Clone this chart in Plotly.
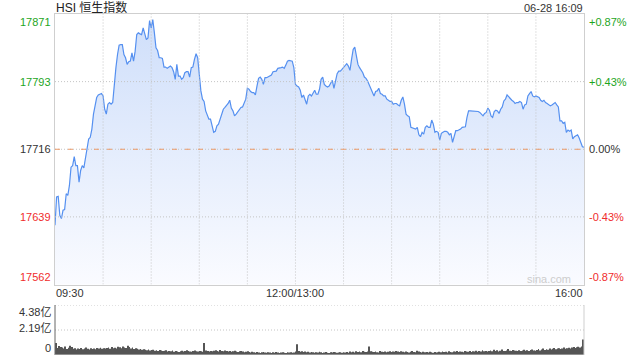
import plotly.graph_objects as go

# ---------------- data ----------------
prev_close = 17716
price_range = [17562, 17870]

am_prices = [
    17629.5, 17661.6, 17662.3, 17640.8, 17637.1, 17646.5, 17647.3, 17665.4, 17663.5, 17674.8,
    17695.6, 17697.4, 17707.6, 17697.4, 17697.4, 17678.6, 17691.8, 17697.4, 17694.8, 17706.9,
    17718.3, 17727.7, 17729.6, 17739.0, 17756.0, 17767.3, 17774.9, 17777.8, 17778.6, 17779.4,
    17776.7, 17761.6, 17756.0, 17767.3, 17769.2, 17767.3, 17769.2, 17793.7, 17808.9, 17823.9,
    17834.4, 17835.2, 17835.2, 17823.9, 17820.2, 17812.6, 17815.7, 17816.3, 17825.8, 17816.3,
    17827.7, 17846.6, 17848.5, 17847.4, 17846.6, 17854.2, 17847.4, 17840.9, 17842.8, 17862.4,
    17854.2, 17863.6, 17848.5, 17831.5, 17828.4, 17820.2, 17820.2, 17819.4, 17809.5, 17809.5,
    17808.1, 17809.5, 17810.7, 17808.9, 17804.3, 17795.6, 17812.6, 17799.3, 17799.3, 17795.6,
    17797.5, 17803.2, 17804.3, 17804.3, 17798.2, 17808.9, 17809.5, 17818.3, 17824.7, 17820.2,
    17801.3, 17782.4, 17773.0, 17770.4, 17759.7, 17754.0, 17750.3, 17750.3, 17742.7, 17735.3,
    17736.4, 17742.7, 17744.6, 17750.3, 17756.0, 17761.6, 17763.6, 17765.4, 17768.1, 17771.8,
    17762.8, 17759.7, 17754.0, 17756.0, 17759.0, 17761.6, 17763.6, 17764.2, 17768.1, 17773.0,
    17785.4, 17784.3, 17781.7, 17780.5, 17780.5, 17777.8, 17788.0, 17796.7, 17798.2, 17795.6,
    17789.9, 17797.5, 17797.5, 17798.2, 17799.3, 17800.5, 17804.3, 17805.0, 17805.0, 17808.1,
    17808.1, 17808.9, 17809.5, 17808.1, 17811.8, 17816.3, 17817.1, 17816.3, 17816.3, 17808.9,
    17789.9,
]
pm_prices = [
    17788.0, 17786.9, 17783.2, 17774.9, 17777.8, 17773.0, 17767.3, 17776.7, 17778.6, 17776.7,
    17779.4, 17783.2, 17778.6, 17778.6, 17784.3, 17795.6, 17798.2, 17789.9, 17788.0, 17786.9,
    17788.0, 17791.9, 17794.5, 17785.4, 17795.6, 17802.1, 17805.0, 17805.0, 17806.9, 17809.5,
    17811.8, 17813.4, 17810.7, 17805.8, 17818.3, 17829.6, 17832.2, 17823.9, 17812.6, 17808.9,
    17805.8, 17803.2, 17798.2, 17796.7, 17793.7, 17789.9, 17786.2, 17781.7, 17776.7, 17781.7,
    17782.4, 17785.4, 17779.4, 17778.6, 17776.7, 17776.7, 17773.0, 17771.8, 17770.4, 17770.4,
    17767.3, 17768.1, 17768.1, 17766.5, 17765.4, 17771.8, 17775.6, 17767.3, 17756.0, 17754.0,
    17752.9, 17740.9, 17740.1, 17740.1, 17739.0, 17740.9, 17732.5, 17730.3, 17735.3, 17733.3,
    17740.9, 17742.7, 17740.9, 17740.9, 17749.2, 17744.6, 17735.3, 17736.4, 17735.3, 17726.5,
    17734.1, 17735.3, 17736.4, 17736.4, 17735.3, 17732.5, 17734.1, 17723.9, 17731.4, 17737.1,
    17737.1, 17737.9, 17739.0, 17740.9, 17741.6, 17741.6, 17752.2, 17759.7, 17759.7, 17759.7,
    17759.7, 17759.7, 17759.0, 17759.0, 17757.9, 17756.0, 17754.0, 17756.8, 17757.9, 17762.8,
    17760.5, 17754.0, 17752.2, 17759.0, 17760.5, 17759.7, 17756.8, 17761.6, 17764.2, 17771.0,
    17773.0, 17777.8, 17775.6, 17773.0, 17771.8, 17770.4, 17768.1, 17769.2, 17769.2, 17770.4,
    17769.2, 17761.6, 17766.5, 17767.3, 17776.7, 17779.4, 17781.7, 17776.7, 17775.6, 17776.7,
    17775.6, 17774.9, 17771.8, 17770.4, 17771.8, 17769.2, 17768.1, 17766.5, 17765.4, 17766.5,
    17768.1, 17769.2, 17766.5, 17764.2, 17748.4, 17748.4, 17745.4, 17746.6, 17735.3, 17737.9,
    17736.4, 17737.9, 17727.7, 17730.3, 17731.4, 17732.5, 17728.8, 17722.8, 17718.9, 17718.3,
]

# volume in 亿
am_volume = [
    1.05, 0.62, 0.78, 0.70, 0.66, 0.58, 0.75, 0.52, 0.64, 0.80, 0.70, 0.55, 0.60, 0.48, 0.57, 0.52,
    0.62, 0.50, 0.58, 0.66, 0.54, 0.48, 0.60, 0.52, 0.56, 0.50, 0.62, 0.58, 0.64, 0.55, 0.60,
    0.58, 0.62, 0.66, 0.55, 0.70, 0.60, 0.64, 0.58, 0.72, 0.68, 0.60, 0.75, 0.66, 0.62, 0.80,
    0.70, 0.58, 0.65, 0.52, 0.60, 0.55, 0.48, 0.52, 0.45, 0.50, 0.46, 0.42, 0.48, 0.40, 0.44,
    0.46, 0.38, 0.42, 0.36, 0.44, 0.40, 0.35, 0.38, 0.42, 0.30, 0.36, 0.33, 0.40, 0.28, 0.34,
    0.30, 0.26, 0.32, 0.38, 0.30, 0.36, 0.42, 0.34, 0.30, 0.28, 0.35, 0.40, 0.32, 0.30, 0.36,
    0.32, 0.28, 1.05, 0.40, 0.34, 0.30, 0.36, 0.32, 0.38, 0.42, 0.35, 0.30, 0.44, 0.36, 0.32,
    0.40, 0.34, 0.30, 0.36, 0.28, 0.32, 0.38, 0.30, 0.27, 0.33, 0.36, 0.30, 0.25, 0.28, 0.32,
    0.26, 0.22, 0.28, 0.24, 0.20, 0.26, 0.22, 0.18, 0.24, 0.27, 0.21, 0.19, 0.25, 0.22, 0.18,
    0.23, 0.20, 0.26, 0.21, 0.18, 0.22, 0.24, 0.20, 0.18, 0.25, 0.21, 0.23, 0.19, 0.22, 0.30,
]
pm_volume = [
    0.95, 0.35, 0.28, 0.32, 0.26, 0.30, 0.24, 0.28, 0.22, 0.26, 0.24, 0.20, 0.25, 0.22, 0.28,
    0.24, 0.18, 0.22, 0.26, 0.20, 0.18, 0.24, 0.21, 0.27, 0.23, 0.19, 0.22, 0.25, 0.20, 0.24,
    0.22, 0.26, 0.20, 0.30, 0.24, 0.28, 0.22, 0.32, 0.26, 0.30, 0.24, 0.35, 0.28, 0.26, 0.30,
    0.75, 0.32, 0.28, 0.26, 0.30, 0.24, 0.22, 0.36, 0.28, 0.26, 0.30, 0.25, 0.28, 0.32, 0.26,
    0.30, 0.28, 0.34, 0.30, 0.26, 0.32, 0.28, 0.24, 0.30, 0.26, 0.22, 0.28, 0.34, 0.26, 0.24,
    0.38, 0.30, 0.26, 0.22, 0.28, 0.24, 0.26, 0.22, 0.28, 0.24, 0.20, 0.26, 0.22, 0.25, 0.28,
    0.24, 0.30, 0.26, 0.28, 0.22, 0.32, 0.26, 0.24, 0.30, 0.28, 0.34, 0.26, 0.30, 0.28, 0.24,
    0.36, 0.30, 0.28, 0.34, 0.26, 0.32, 0.30, 0.38, 0.28, 0.34, 0.30, 0.42, 0.32, 0.36, 0.30,
    0.34, 0.40, 0.32, 0.46, 0.36, 0.42, 0.30, 0.38, 0.48, 0.36, 0.34, 0.40, 0.52, 0.38, 0.36,
    0.44, 0.40, 0.38, 0.34, 0.42, 0.36, 0.40, 0.46, 0.38, 0.42, 0.36, 0.44, 0.48, 0.40, 0.38,
    0.44, 0.52, 0.40, 0.48, 0.56, 0.44, 0.50, 0.46, 0.58, 0.48, 0.54, 0.62, 0.50, 0.56, 0.60,
    0.52, 0.58, 0.66, 0.54, 0.60, 0.64, 0.58, 0.66, 0.70, 0.62, 0.68, 0.72, 0.66, 0.75, 1.35,
]

left_ticks = [17871, 17793, 17716, 17639, 17562]
right_ticks = ["+0.87%", "+0.43%", "0.00%", "-0.43%", "-0.87%"]
tick_colors = ["#1da51d", "#1da51d", "#333333", "#f02c2c", "#f02c2c"]
time_labels = ["09:30", "12:00/13:00", "16:00"]
vol_labels = ["4.38亿", "2.19亿", "0"]
vol_max = 4.38
title_text = "HSI 恒生指数"
stamp_text = "06-28 16:09"

# ---------------- build ----------------
prices = am_prices + pm_prices
volumes = am_volume + pm_volume
times = [f"{9 + (30 + i) // 60:02d}:{(30 + i) % 60:02d}" for i in range(len(am_prices))] + \
        [f"{13 + (1 + i) // 60:02d}:{(1 + i) % 60:02d}" for i in range(len(pm_prices))]
idx = list(range(len(prices)))
n_last = idx[-1]

W, H = 640, 360
ML, MR, MT, MB = 55, 56, 14, 5
PH = H - MT - MB
def py(p):
    return (H - MB - p) / PH

main_dom = [py(284.5), 1.0]
vol_dom = [0.0, py(305)]

FONT = "Liberation Sans, Arial, Noto Sans CJK SC, sans-serif"
GRID = "#c4c4c4"
FRAME = "#cfcfcf"
DOT = "1px,2px"

fig = go.Figure()
fig.add_trace(go.Scatter(
    x=idx, y=prices, customdata=times, mode="lines",
    line=dict(color="#5590f0", width=1.2),
    fill="tozeroy",
    fillgradient=dict(type="vertical",
                      colorscale=[[0, "rgb(250,251,255)"], [1, "rgb(206,222,250)"]],
                      start=price_range[0], stop=price_range[1]),
    xaxis="x", yaxis="y", hoverinfo="skip", showlegend=False,
))
fig.add_trace(go.Bar(
    x=idx, y=volumes, marker=dict(color="#555555", line=dict(width=0)),
    xaxis="x2", yaxis="y2", hoverinfo="skip", showlegend=False,
))

fig.update_layout(
    width=W, height=H, margin=dict(l=ML, r=MR, t=MT, b=MB),
    paper_bgcolor="white", plot_bgcolor="white", bargap=0.45,
    font=dict(family=FONT, size=11, color="#333"),
    xaxis=dict(domain=[0, 1], range=[0, n_last], anchor="y",
               showticklabels=False, ticks="", showgrid=False, zeroline=False,
               showline=True, mirror=True, linecolor=FRAME, linewidth=1),
    yaxis=dict(domain=main_dom, range=price_range, anchor="x",
               showticklabels=False, ticks="", showgrid=False, zeroline=False,
               showline=True, mirror=True, linecolor=FRAME, linewidth=1),
    xaxis2=dict(domain=[0, 1], range=[-0.5, n_last + 0.5], anchor="y2",
                showticklabels=False, ticks="", showgrid=False, zeroline=False, showline=False),
    yaxis2=dict(domain=vol_dom, range=[0, vol_max], anchor="x2",
                showticklabels=False, ticks="", showgrid=False, zeroline=False, showline=False),
)

shapes = []
# dotted grid drawn above the area fill
for m in range(30, n_last, 30):
    shapes.append(dict(type="line", xref="x", yref="y", x0=m, x1=m,
                       y0=price_range[0], y1=price_range[1], layer="above",
                       line=dict(color=GRID, width=1, dash=DOT)))
for v in left_ticks[1:4]:
    shapes.append(dict(type="line", xref="paper", yref="y", x0=0, x1=1, y0=v, y1=v,
                       layer="above", line=dict(color=GRID, width=1, dash=DOT)))
shapes += [
    dict(type="line", xref="paper", yref="y", x0=0, x1=1, y0=prev_close, y1=prev_close,
         line=dict(color="#ec9a68", width=1, dash="5px,8px")),
    dict(type="line", xref="paper", yref="y2", x0=0, x1=1, y0=vol_max, y1=vol_max,
         line=dict(color=GRID, width=1, dash=DOT)),
    dict(type="line", xref="paper", yref="y2", x0=0, x1=1, y0=vol_max / 2, y1=vol_max / 2,
         line=dict(color=GRID, width=1, dash=DOT)),
    dict(type="line", xref="paper", yref="y2", x0=0, x1=0, y0=0, y1=vol_max,
         line=dict(color="#666666", width=1)),
    dict(type="line", xref="paper", yref="y2", x0=1, x1=1, y0=0, y1=vol_max,
         line=dict(color=FRAME, width=1)),
    dict(type="line", xref="paper", yref="y2", x0=0, x1=1, y0=0, y1=0,
         line=dict(color=FRAME, width=1)),
]
fig.update_layout(shapes=shapes)

ann = []
anchors = ["top", "middle", "middle", "middle", "bottom"]
for val, pct, col, ya in zip(left_ticks, right_ticks, tick_colors, anchors):
    yv = min(max(val, price_range[0]), price_range[1])
    ann.append(dict(xref="paper", yref="y", x=0, y=yv, text=str(val), showarrow=False,
                    xanchor="right", yanchor=ya, xshift=-2, font=dict(size=11, color=col)))
    ann.append(dict(xref="paper", yref="y", x=1, y=yv, text=pct, showarrow=False,
                    xanchor="left", yanchor=ya, xshift=3, font=dict(size=11, color=col)))
ann.append(dict(xref="paper", yref="paper", x=0, y=py(293), text=time_labels[0], showarrow=False,
                xanchor="left", yanchor="middle", xshift=-1, font=dict(size=11, color="#333")))
ann.append(dict(xref="x", yref="paper", x=len(am_prices) - 1, y=py(293), text=time_labels[1],
                showarrow=False, xanchor="center", yanchor="middle", font=dict(size=11, color="#333")))
ann.append(dict(xref="paper", yref="paper", x=1, y=py(293), text=time_labels[2], showarrow=False,
                xanchor="right", yanchor="middle", xshift=1, font=dict(size=11, color="#333")))
for txt, p in zip(vol_labels, [312, 328, 348]):
    ann.append(dict(xref="paper", yref="paper", x=0, y=py(p), text=txt, showarrow=False,
                    xanchor="right", yanchor="middle", xshift=-2, font=dict(size=11, color="#333")))
ann.append(dict(xref="paper", yref="paper", x=0, y=py(7.5), text=title_text, showarrow=False,
                xanchor="left", yanchor="middle", xshift=-1,
                font=dict(size=12, color="#222", family="Liberation Sans, Noto Sans CJK SC, sans-serif")))
ann.append(dict(xref="paper", yref="paper", x=1, y=py(7.5), text=stamp_text, showarrow=False,
                xanchor="right", yanchor="middle", xshift=1, font=dict(size=11, color="#333")))
ann.append(dict(xref="paper", yref="paper", x=(573 - ML) / (W - ML - MR), y=py(278.5), text="sina.com",
                showarrow=False, xanchor="right", yanchor="middle",
                font=dict(size=11, color="#cdcdcd")))
fig.update_layout(annotations=ann)

fig.write_html("out.html")
